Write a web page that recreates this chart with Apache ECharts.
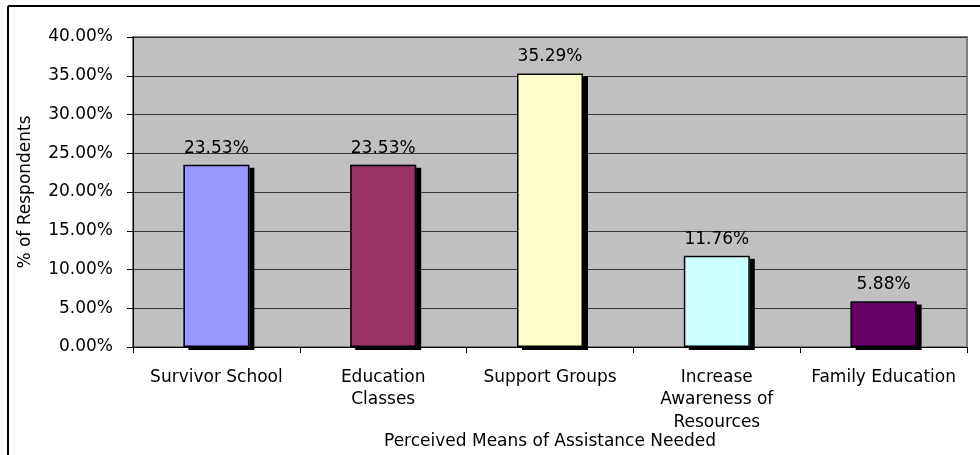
<!DOCTYPE html>
<html><head><meta charset="utf-8">
<script src="https://cdn.jsdelivr.net/npm/echarts@6/dist/echarts.min.js"></script>
<style>html,body{margin:0;padding:0;background:#fff}#c{width:980px;height:455px}</style>
</head><body><div id="c"></div>
<script>
const categories = ['Survivor School', 'Education\nClasses', 'Support Groups', 'Increase\nAwareness of\nResources', 'Family Education'];
const values = [0.2353, 0.2353, 0.3529, 0.1176, 0.0588];
const barColors = ['#9999FF', '#993366', '#FFFFCC', '#CCFFFF', '#660066'];
const yTicks = { min: 0, max: 0.4, interval: 0.05 };
const xTitle = 'Perceived Means of Assistance Needed';
const yTitle = '% of Respondents';

const font = '"DejaVu Sans", Arial, sans-serif';
const fs = 17;
const pct = v => (v * 100).toFixed(2) + '%';
const chart = echarts.init(document.getElementById('c'), null, { renderer: 'canvas' });
chart.setOption({
  animation: false,
  backgroundColor: '#fff',
  graphic: [
    { type: 'line', shape: { x1: 8, y1: 6, x2: 980, y2: 6 }, style: { stroke: '#000', lineWidth: 2 } },
    { type: 'line', shape: { x1: 8, y1: 6, x2: 8, y2: 455 }, style: { stroke: '#000', lineWidth: 2 } }
  ],
  grid: { left: 133, right: 13, top: 37, bottom: 108, outerBoundsMode: 'none', containLabel: false, show: true, backgroundColor: '#C0C0C0', borderColor: '#808080', borderWidth: 2 },
  xAxis: {
    type: 'category',
    data: categories,
    name: xTitle,
    nameLocation: 'middle',
    nameGap: 86,
    nameMoveOverlap: false,
    nameTextStyle: { fontFamily: font, fontSize: fs, color: '#000' },
    axisLine: { lineStyle: { color: '#000', width: 1 } },
    axisTick: { show: true, length: 6, lineStyle: { color: '#000' } },
    axisLabel: { fontFamily: font, fontSize: fs, color: '#000', margin: 19, lineHeight: 22.5, interval: 0 }
  },
  yAxis: {
    type: 'value',
    min: yTicks.min, max: yTicks.max, interval: yTicks.interval,
    name: yTitle,
    nameLocation: 'middle',
    nameGap: 99,
    nameMoveOverlap: false,
    nameTextStyle: { fontFamily: font, fontSize: fs, color: '#000' },
    axisLine: { show: true, lineStyle: { color: '#000' } },
    axisTick: { show: true, length: 6, lineStyle: { color: '#000' } },
    axisLabel: { fontFamily: font, fontSize: fs, color: '#000', margin: 20, formatter: pct },
    splitLine: { lineStyle: { color: '#333', width: 1 } }
  },
  series: [{
    type: 'bar',
    data: values.map((v, i) => ({ value: v, itemStyle: { color: barColors[i] } })),
    barWidth: 66,
    z: 2,
    itemStyle: { borderWidth: 0, shadowColor: '#000', shadowOffsetX: 5, shadowOffsetY: 3, shadowBlur: 0 }
  }, {
    type: 'bar',
    data: values,
    barWidth: 66,
    barGap: '-100%',
    z: 3,
    itemStyle: { color: 'rgba(0,0,0,0)', borderColor: '#000', borderWidth: 1.5 },
    label: { show: true, position: 'top', distance: 8, fontFamily: font, fontSize: fs, color: '#000', formatter: p => pct(p.value) }
  }]
});
</script></body></html>
